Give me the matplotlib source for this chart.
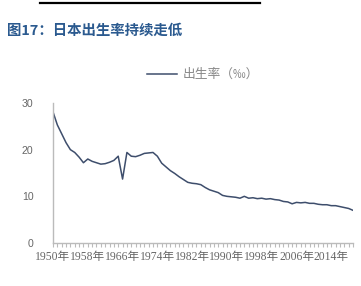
import numpy as np
import matplotlib.pyplot as plt
from matplotlib.lines import Line2D

# 日本出生率（‰），1950-2019
years = list(range(1950, 2020))
birth_rate = [28.1, 25.3, 23.4, 21.5, 20.0, 19.4, 18.4, 17.2, 18.0, 17.5,
              17.2, 16.9, 17.0, 17.3, 17.7, 18.6, 13.7, 19.4, 18.6, 18.5,
              18.8, 19.2, 19.3, 19.4, 18.6, 17.1, 16.3, 15.5, 14.9, 14.2,
              13.6, 13.0, 12.8, 12.7, 12.5, 11.9, 11.4, 11.1, 10.8, 10.2,
              10.0, 9.9, 9.8, 9.6, 10.0, 9.6, 9.7, 9.5, 9.6, 9.4,
              9.5, 9.3, 9.2, 8.9, 8.8, 8.4, 8.7, 8.6, 8.7, 8.5,
              8.5, 8.3, 8.2, 8.2, 8.0, 8.0, 7.8, 7.6, 7.4, 7.0]
label_years = [1950, 1958, 1966, 1974, 1982, 1990, 1998, 2006, 2014]
yticks = [0, 10, 20, 30]

plt.rcParams['font.family'] = ['Noto Sans CJK SC', 'DejaVu Sans']

fig = plt.figure(figsize=(3.61, 2.86), dpi=100)

# 顶部残留的分隔线
fig.add_artist(Line2D([40/361, 260/361], [1 - 3/286, 1 - 3/286], color='black', lw=1.6))

fig.text(7/361, 1 - 31/286, '图17：日本出生率持续走低', fontsize=10.4, fontweight='bold',
         color='#2b5a8f', va='center', ha='left')

ax = fig.add_axes([53/361, 43/286, 300/361, 140/286])
ax.plot(years, birth_rate, color='#3e4e6c', lw=1.1)

ax.set_xlim(1950, 2019)
ax.set_ylim(0, 30)
ax.set_yticks(yticks)
ax.set_yticklabels([str(v) for v in yticks], fontsize=7.6, color='#666666',
                   family=['Liberation Sans'])
ax.tick_params(axis='y', length=0, pad=14)

ax.set_xticks(years, minor=True)
ax.set_xticks(label_years)
ax.set_xticklabels([f'{y}年' for y in label_years], fontsize=8.4, color='#666666',
                   family=['Liberation Serif', 'Noto Sans CJK SC'])
ax.tick_params(axis='x', which='both', length=3, color='#bbbbbb', width=0.8, pad=3)

for s in ['top', 'right']:
    ax.spines[s].set_visible(False)
for s in ['left', 'bottom']:
    ax.spines[s].set_color('#bbbbbb')
    ax.spines[s].set_linewidth(1.0)

# 图例
fig.add_artist(Line2D([147/361, 177/361], [1 - 74/286, 1 - 74/286], color='#3e4e6c', lw=1.1))
fig.text(183/361, 1 - 74/286, '出生率（‰）', fontsize=9.2, color='#888888',
         va='center', ha='left', family=['Noto Sans CJK SC', 'DejaVu Sans'])

fig.savefig('out.png', dpi=100)
